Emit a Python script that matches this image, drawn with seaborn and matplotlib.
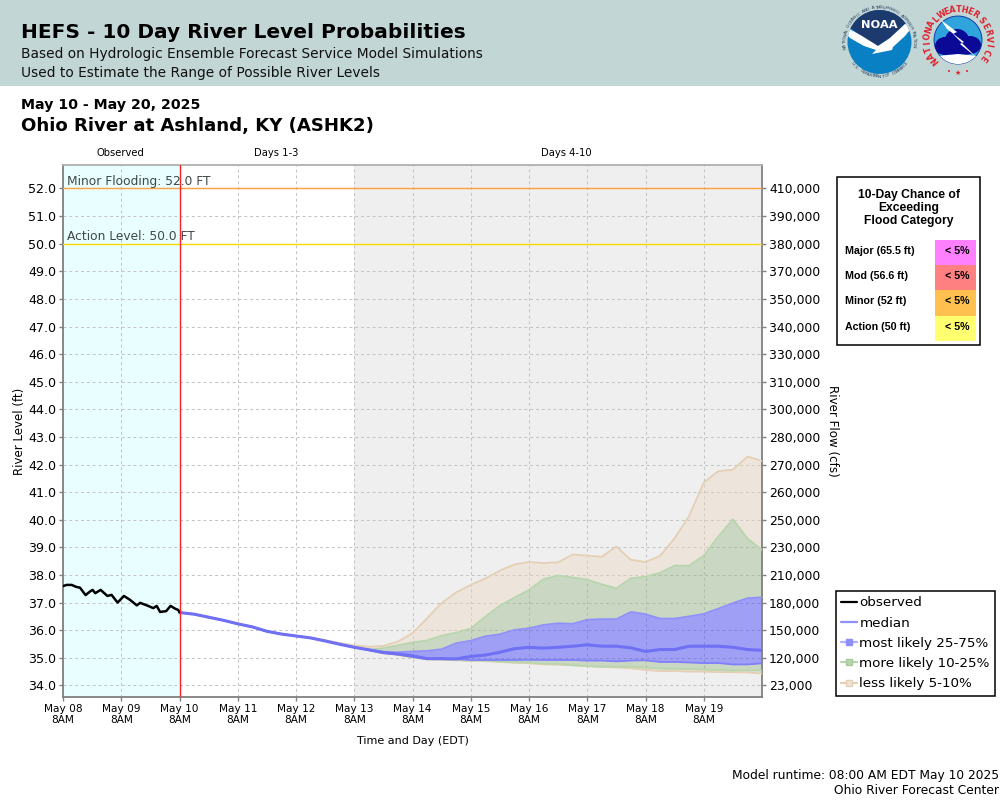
import math
import pandas as pd
import matplotlib
matplotlib.use("Agg")
import matplotlib.pyplot as plt
import seaborn as sns
from matplotlib.lines import Line2D
from matplotlib.patches import Circle, Ellipse, Polygon, Rectangle

# ---- data ----
observed_hours = [0.1, 1.5, 3.6, 5.4, 7, 9.3, 11.1, 12.2, 13.3, 15.5, 18.3, 20, 22.5,
                  25.1, 27.6, 30.4, 31.8, 34.5, 37.2, 38.6, 40, 42.5, 44.3, 46.2, 47.5, 48]
observed_level = [37.60, 37.64, 37.64, 37.57, 37.54, 37.27, 37.40, 37.46, 37.34, 37.46, 37.24, 37.28, 37.00,
                  37.24, 37.10, 36.90, 36.99, 36.90, 36.80, 36.88, 36.66, 36.69, 36.88, 36.78, 36.73, 36.65]

early = [36.64, 36.58, 36.47, 36.36, 36.23, 36.12, 35.96, 35.86, 35.79, 35.72, 35.61, 35.49, 35.38]
median = early + [35.29, 35.19, 35.14, 35.07, 34.97, 34.97, 34.96, 35.05, 35.10, 35.20, 35.33, 35.38, 35.35,
                  35.38, 35.42, 35.47, 35.42, 35.42, 35.36, 35.23, 35.30, 35.30, 35.42, 35.42, 35.42, 35.38,
                  35.30, 35.27]
p75 = early + [35.30, 35.22, 35.20, 35.23, 35.25, 35.31, 35.53, 35.62, 35.78, 35.85, 36.01, 36.07, 36.19,
               36.25, 36.23, 36.38, 36.40, 36.40, 36.66, 36.58, 36.42, 36.42, 36.50, 36.59, 36.78, 36.98,
               37.16, 37.19]
p25 = early + [35.28, 35.18, 35.12, 35.03, 34.96, 34.96, 34.95, 34.92, 34.92, 34.92, 34.92, 34.93, 34.92,
               34.92, 34.92, 34.90, 34.90, 34.87, 34.90, 34.91, 34.85, 34.85, 34.83, 34.81, 34.81, 34.76,
               34.76, 34.80]
p90 = early + [35.30, 35.35, 35.45, 35.56, 35.63, 35.80, 35.91, 36.06, 36.49, 36.89, 37.18, 37.46, 37.85,
               37.98, 37.91, 37.83, 37.66, 37.52, 37.88, 37.94, 38.08, 38.34, 38.34, 38.70, 39.39, 40.02,
               39.32, 38.91]
p10 = early + [35.28, 35.17, 35.11, 35.02, 34.95, 34.94, 34.92, 34.90, 34.90, 34.86, 34.84, 34.83, 34.78,
               34.78, 34.73, 34.70, 34.68, 34.68, 34.68, 34.64, 34.61, 34.60, 34.59, 34.57, 34.56, 34.54,
               34.54, 34.54]
p95 = early[:9] + [35.73, 35.64, 35.54, 35.45, 35.40, 35.43, 35.59, 35.89, 36.43, 36.98, 37.37, 37.64, 37.87,
                   38.16, 38.38, 38.47, 38.43, 38.46, 38.74, 38.70, 38.66, 39.03, 38.55, 38.47, 38.69, 39.33,
                   40.14, 41.35, 41.76, 41.81, 42.29, 42.13]
p5 = early + [35.27, 35.16, 35.10, 35.01, 34.94, 34.93, 34.91, 34.89, 34.88, 34.85, 34.82, 34.80, 34.76,
              34.75, 34.73, 34.70, 34.67, 34.65, 34.62, 34.56, 34.52, 34.52, 34.50, 34.50, 34.48, 34.48,
              34.47, 34.43]

stage_ticks = [34 + i for i in range(19)]
flow_labels = ["23,000", "120,000", "150,000", "180,000", "210,000", "230,000", "250,000", "260,000",
               "270,000", "280,000", "300,000", "310,000", "330,000", "340,000", "350,000", "370,000",
               "380,000", "390,000", "410,000"]
day_labels = ["May 08", "May 09", "May 10", "May 11", "May 12", "May 13",
              "May 14", "May 15", "May 16", "May 17", "May 18", "May 19"]
flood_rows = ["Major (65.5 ft)", "Mod (56.6 ft)", "Minor (52 ft)", "Action (50 ft)"]
flood_chance = ["< 5%", "< 5%", "< 5%", "< 5%"]
flood_colors = ["#ff80ff", "#ff8080", "#ffc050", "#ffff70"]

start = pd.Timestamp("2025-05-08 08:00")
obs_time = [start + pd.Timedelta(hours=h) for h in observed_hours]
fc_time = pd.date_range("2025-05-10 08:00", periods=len(median), freq="6h")
day_ticks = pd.date_range(start, periods=12, freq="D")

# ---- figure and axes, laid out in pixels ----
sns.set_style("white")
plt.rcParams["font.family"] = ["DejaVu Sans"]
plt.rcParams["text.color"] = "black"
plt.rcParams["axes.labelcolor"] = "black"
plt.rcParams["xtick.labelcolor"] = "black"
plt.rcParams["ytick.labelcolor"] = "black"
W, H = 1000, 800
fig = plt.figure(figsize=(W / 100, H / 100), dpi=100, facecolor="white")
L, R, T, B = 63, 762, 165, 697
ax = fig.add_axes([L / W, 1 - B / H, (R - L) / W, (B - T) / H])
ax.set_xlim(start, pd.Timestamp("2025-05-20 08:00"))
ax.set_ylim(33.58, 52.85)

ax.axvspan(start, pd.Timestamp("2025-05-10 08:00"), color="#e9ffff", lw=0, zorder=0)
ax.axvspan(pd.Timestamp("2025-05-13 08:00"), pd.Timestamp("2025-05-20 08:00"), color="#efefef", lw=0, zorder=0)

ax.set_xticks(day_ticks)
ax.set_xticklabels([d + "\n8AM" for d in day_labels], fontsize=7.6, linespacing=1.1)
ax.set_yticks(stage_ticks)
ax.set_yticklabels([f"{v:.1f}" for v in stage_ticks], fontsize=9.1)
ax.tick_params(axis="both", length=3, width=1, color="#808080", left=True, bottom=True, pad=2)
ax.grid(True, color="#c4c4c4", ls=(0, (2.8, 2.8)), lw=0.75, zorder=1)
ax.set_axisbelow(True)
for name, sp in ax.spines.items():
    sp.set_color("#808080" if name != "top" else "#b0b0b0")
    sp.set_linewidth(1.3)

# probability bands
tan, green, blue = "#ecd8bf", "#90b381", "#2929ff"
ax.fill_between(fc_time, p90, p95, color=tan, alpha=0.4, lw=0, zorder=2)
ax.fill_between(fc_time, p5, p10, color=tan, alpha=0.4, lw=0, zorder=2)
ax.fill_between(fc_time, p75, p90, color=green, alpha=0.4, lw=0, zorder=2)
ax.fill_between(fc_time, p10, p25, color=green, alpha=0.4, lw=0, zorder=2)
ax.fill_between(fc_time, p25, p75, color=blue, alpha=0.4, lw=0, zorder=2)
for series, col in [(p95, "#e5cfb5"), (p5, "#e5cfb5"), (p90, "#b8d6ae"), (p10, "#b8d6ae"),
                    (p75, "#9090fa"), (p25, "#8080fa")]:
    sns.lineplot(x=fc_time, y=series, ax=ax, color=col, lw=1.3, zorder=3, estimator=None)
sns.lineplot(x=fc_time, y=median, ax=ax, color="#7070f5", lw=2.2, zorder=4, estimator=None)
sns.lineplot(x=obs_time, y=observed_level, ax=ax, color="black", lw=1.8, zorder=5, estimator=None)
ax.set_xlabel("Time and Day (EDT)", fontsize=8, labelpad=8)
ax.set_ylabel("River Level (ft)", fontsize=8.5)
ax.yaxis.set_label_coords((26 - L) / (R - L), 0.5)

# flood levels and "now" line
ax.axhline(52, color="#ffa040", lw=1.0, zorder=4)
ax.axhline(50, color="#ffd800", lw=1.0, zorder=4)
ax.axvline(pd.Timestamp("2025-05-10 08:00"), color="#ff2020", lw=1.0, zorder=6)
ax.annotate("Minor Flooding: 52.0 FT", (start, 52), xytext=(4, 0.5), textcoords="offset pixels",
            fontsize=8.85, color="#404848", va="bottom", zorder=7)
ax.annotate("Action Level: 50.0 FT", (start, 50), xytext=(4, 0.5), textcoords="offset pixels",
            fontsize=8.85, color="#404848", va="bottom", zorder=7)

# flow axis on the right
ax2 = ax.twinx()
ax2.set_ylim(ax.get_ylim())
ax2.set_yticks(stage_ticks)
ax2.set_yticklabels(flow_labels, fontsize=8.9)
ax2.tick_params(axis="y", length=3, width=1, color="#808080", right=True, pad=2)
ax2.grid(False)
for sp in ax2.spines.values():
    sp.set_visible(False)

# legend
handles = [
    Line2D([], [], color="black", lw=1.6),
    Line2D([], [], color="#9090fa", lw=1.6),
    Line2D([], [], color="#b0b0fa", lw=1.6, marker="s", ms=5, mfc="#8f8ffa", mec="#8f8ffa"),
    Line2D([], [], color="#b8d6ae", lw=1.6, marker="s", ms=5, mfc="#b8d6ae", mec="#a8c8a0"),
    Line2D([], [], color="#e5cfb5", lw=1.6, marker="s", ms=5, mfc="#efe3d6", mec="#e5cfb5"),
]
labels = ["observed", "median", "most likely 25-75%", "more likely 10-25%", "less likely 5-10%"]
leg = fig.legend(handles, labels, loc="upper left", bbox_to_anchor=(835.5 / W, 1 - 591 / H),
                 borderaxespad=0, fontsize=9.7, frameon=True, fancybox=False, framealpha=1,
                 edgecolor="black", handlelength=1.2, handletextpad=0.17, labelspacing=0.54,
                 borderpad=0.4)
leg.get_frame().set_linewidth(1.1)

# ---- overlay in pixel coordinates: header, logos, panel, captions ----
ov = fig.add_axes([0, 0, 1, 1], zorder=10)
ov.set_xlim(0, W)
ov.set_ylim(H, 0)
ov.axis("off")
ov.patch.set_alpha(0)

ov.add_patch(Rectangle((0, 0), W, 86, fc="#c2d7d5", lw=0))
ov.text(21, 33, "HEFS - 10 Day River Level Probabilities", fontsize=14.5, fontweight="bold", va="center")
ov.text(21, 54, "Based on Hydrologic Ensemble Forecast Service Model Simulations", fontsize=9.88, va="center", color="#101010")
ov.text(21, 73, "Used to Estimate the Range of Possible River Levels", fontsize=9.88, va="center", color="#101010")
ov.text(21, 105, "May 10 - May 20, 2025", fontsize=10.15, fontweight="bold", va="center")
ov.text(21, 126, "Ohio River at Ashland, KY (ASHK2)", fontsize=13.05, fontweight="bold", va="center")
ov.text(120, 153.5, "Observed", fontsize=7.2, ha="center", va="center")
ov.text(276.5, 153.5, "Days 1-3", fontsize=7.2, ha="center", va="center")
ov.text(566, 153.5, "Days 4-10", fontsize=7.2, ha="center", va="center")
ov.text(832, 431, "River Flow (cfs)", fontsize=8.6, rotation=270, ha="center", va="center")
ov.text(999, 775, "Model runtime: 08:00 AM EDT May 10 2025", fontsize=8.8, ha="right", va="center")
ov.text(999, 791, "Ohio River Forecast Center", fontsize=8.8, ha="right", va="center")


def arc_text(text, cx, cy, r, a0, a1, **kw):
    # one character at a time from angle a0 to a1 (degrees clockwise from the top)
    n = len(text)
    for i, ch in enumerate(text):
        a = a0 + (a1 - a0) * i / (n - 1)
        t = math.radians(a)
        rot = 180 - a if a1 < a0 else -a
        ov.text(cx + r * math.sin(t), cy - r * math.cos(t), ch, rotation=rot, rotation_mode="anchor",
                ha="center", va="center", **kw)


# NOAA logo
nx, ny = 879.5, 42
disc = Circle((nx, ny), 32, fc="#0a80c4", ec="none")
ov.add_patch(disc)
navy = Polygon([(845, 5), (915, 5), (915, 20), (905, 24), (890, 38), (878, 46), (866, 40), (852, 29), (845, 27)],
               fc="#1c3a6e", ec="none")
ov.add_patch(navy)
navy.set_clip_path(disc)
bird = Polygon([(846, 27), (862, 36), (878, 46), (890, 38), (905, 24), (914, 25), (905, 36), (893, 47), (892, 50),
                (872, 54), (876, 50), (864, 46), (850, 38), (846, 34)], fc="white", ec="none")
ov.add_patch(bird)
bird.set_clip_path(disc)
ov.text(nx, 25.5, "NOAA", color="white", fontsize=8.2, fontweight="bold", ha="center", va="center")
arc_text("NATIONAL OCEANIC AND ATMOSPHERIC ADMINISTRATION", nx, ny, 34.5, -100, 96, fontsize=3.2, color="#2c4060")
arc_text("U.S. DEPARTMENT OF COMMERCE", nx, ny, 34.5, 232, 128, fontsize=3.2, color="#2c4060")

# NWS logo
wx, wy = 958, 40
ring = Circle((wx, wy), 24, fc="#2fa4dc", ec="#0a2a9a", lw=0.6)
ov.add_patch(ring)
for ex, ey, ew, eh in [(945, 46, 20, 18), (957, 40, 24, 22), (970, 45, 22, 18), (958, 50, 36, 11)]:
    ov.add_patch(Ellipse((ex, ey), ew, eh, fc="#0a0a96", ec="none"))
low = Polygon([(938, 56), (958, 54), (978, 56), (970, 64), (946, 64)], fc="white", ec="none")
ov.add_patch(low)
low.set_clip_path(ring)
ov.add_patch(Polygon([(941, 20), (957, 32), (953, 34), (977, 58), (960, 44), (964, 42), (947, 29)],
                     fc="white", ec="none"))
arc_text("NATIONAL", wx, wy, 30.5, -132, -47, fontsize=5.8, fontweight="bold", color="#e0202c")
arc_text("WEATHER", wx, wy, 30.5, -32, 34, fontsize=5.8, fontweight="bold", color="#e0202c")
arc_text("SERVICE", wx, wy, 30.5, 50, 125, fontsize=5.8, fontweight="bold", color="#e0202c")
ov.text(958, 73, "★", fontsize=5, color="#e0202c", ha="center", va="center")
for dot_x in [949, 967]:
    ov.text(dot_x, 72, "•", fontsize=5, color="#e0202c", ha="center", va="center")

# chance-of-exceeding panel
ov.add_patch(Rectangle((836.5, 177), 143.5, 168, fc="white", ec="black", lw=1.1))
panel_font = "Liberation Sans"
for y, line in zip([195, 208, 221], ["10-Day Chance of", "Exceeding", "Flood Category"]):
    ov.text(909, y, line, family=panel_font, fontweight="bold", fontsize=8.7, ha="center", va="center")
row_h = 25.2
for i, (row, chance, col) in enumerate(zip(flood_rows, flood_chance, flood_colors)):
    top = 240 + i * row_h
    ov.add_patch(Rectangle((935, top), 41, row_h, fc=col, lw=0))
    ov.text(845, top + 11, row, family=panel_font, fontweight="bold", fontsize=7.7, va="center")
    ov.text(957.5, top + 11, chance, family=panel_font, fontweight="bold", fontsize=7.7, ha="center", va="center")

fig.savefig("out.png", dpi=100)
